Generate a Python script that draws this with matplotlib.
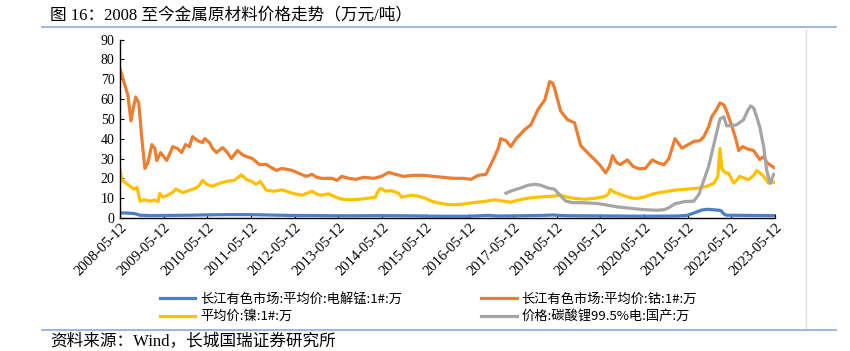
import matplotlib
matplotlib.use("Agg")
import matplotlib.pyplot as plt
from matplotlib.lines import Line2D

# time axis in fractional years, values in 万元/吨
mn_t = [2008.36, 2008.59, 2008.70, 2008.82, 2009.04, 2009.50, 2009.95, 2010.41,
        2010.87, 2011.32, 2011.78, 2012.23, 2012.92, 2013.60, 2014.28, 2014.97,
        2015.65, 2016.33, 2016.79, 2017.02, 2017.47, 2018.04, 2018.27, 2018.50,
        2019.07, 2019.75, 2020.43, 2021.12, 2021.34, 2021.50, 2021.68, 2021.80,
        2021.98, 2022.12, 2022.19, 2022.25, 2022.71, 2023.33]
mn_v = [2.6, 2.4, 2.2, 1.4, 1.2, 1.3, 1.4, 1.6,
        1.7, 1.7, 1.5, 1.3, 1.2, 1.1, 1.2, 1.1,
        0.9, 0.9, 1.3, 1.0, 1.1, 1.3, 1.5, 1.2,
        1.1, 1.0, 0.9, 1.0, 1.3, 2.5, 4.0, 4.4,
        4.1, 3.8, 2.0, 1.4, 1.3, 1.2]

co_t = [2008.36, 2008.43, 2008.54, 2008.61, 2008.66, 2008.72, 2008.79, 2008.86,
        2008.93, 2009.00, 2009.09, 2009.16, 2009.20, 2009.29, 2009.36, 2009.43,
        2009.57, 2009.68, 2009.77, 2009.86, 2009.95, 2010.02, 2010.14, 2010.25,
        2010.30, 2010.41, 2010.48, 2010.57, 2010.71, 2010.82, 2010.91, 2011.05,
        2011.16, 2011.25, 2011.39, 2011.55, 2011.71, 2011.82, 2011.94, 2012.07,
        2012.30, 2012.46, 2012.62, 2012.76, 2012.87, 2012.98, 2013.21, 2013.33,
        2013.44, 2013.60, 2013.76, 2013.94, 2014.17, 2014.35, 2014.51, 2014.67,
        2014.85, 2015.08, 2015.31, 2015.54, 2015.76, 2015.99, 2016.22, 2016.40,
        2016.56, 2016.74, 2016.83, 2016.92, 2017.02, 2017.08, 2017.20, 2017.31,
        2017.43, 2017.52, 2017.63, 2017.77, 2017.93, 2018.09, 2018.20, 2018.27,
        2018.31, 2018.45, 2018.61, 2018.77, 2018.91, 2019.02, 2019.13, 2019.25,
        2019.36, 2019.48, 2019.57, 2019.64, 2019.73, 2019.82, 2019.98, 2020.11,
        2020.25, 2020.39, 2020.55, 2020.66, 2020.82, 2020.93, 2021.07, 2021.23,
        2021.37, 2021.50, 2021.64, 2021.73, 2021.84, 2021.91, 2022.03, 2022.10,
        2022.19, 2022.25, 2022.37, 2022.46, 2022.53, 2022.62, 2022.71, 2022.87,
        2023.01, 2023.10, 2023.17, 2023.33]
co_v = [75, 70, 62, 49, 55, 61, 58, 40,
        25, 28, 37, 35, 29, 33, 31, 29,
        36, 35, 33, 37, 36, 41, 39, 38,
        40, 38, 35, 33, 35.5, 33, 30, 34,
        32, 31, 30, 27, 27, 25.5, 24, 25,
        24, 22.5, 21, 22, 20.5, 20, 20, 19,
        21, 20, 19.5, 20.5, 20, 21, 23, 22,
        21, 21.5, 21.5, 21, 20.5, 20, 20, 19.5,
        21.5, 22, 26, 30, 35, 40, 39, 36,
        40, 42, 44.6, 47, 54.6, 59.6, 68.8, 68,
        65.5, 54, 49.5, 48, 36.5, 34, 31.5, 29,
        26.4, 22.8, 26, 31.5, 28, 27, 29.3, 26,
        24.8, 25, 29.3, 28, 26.9, 30, 40, 35.2,
        37, 38.6, 39, 41, 46, 51, 55, 58,
        57, 54, 46.5, 40, 34, 36, 35, 34,
        29.5, 31, 28, 25.5]

ni_t = [2008.36, 2008.41, 2008.50, 2008.59, 2008.68, 2008.75, 2008.82, 2008.93,
        2009.04, 2009.16, 2009.23, 2009.27, 2009.34, 2009.45, 2009.57, 2009.64,
        2009.80, 2009.95, 2010.09, 2010.18, 2010.25, 2010.34, 2010.48, 2010.64,
        2010.80, 2010.98, 2011.14, 2011.25, 2011.37, 2011.48, 2011.57, 2011.71,
        2011.89, 2012.07, 2012.30, 2012.53, 2012.64, 2012.76, 2012.87, 2012.98,
        2013.14, 2013.30, 2013.44, 2013.67, 2013.87, 2014.05, 2014.21, 2014.28,
        2014.33, 2014.44, 2014.58, 2014.74, 2014.81, 2015.03, 2015.19, 2015.35,
        2015.49, 2015.65, 2015.88, 2016.04, 2016.22, 2016.40, 2016.56, 2016.72,
        2016.95, 2017.13, 2017.31, 2017.47, 2017.70, 2017.93, 2018.09, 2018.27,
        2018.45, 2018.61, 2018.77, 2019.00, 2019.23, 2019.45, 2019.54, 2019.59,
        2019.68, 2019.75, 2019.93, 2020.09, 2020.21, 2020.39, 2020.59, 2020.77,
        2021.05, 2021.30, 2021.57, 2021.80, 2021.96, 2022.05, 2022.10, 2022.14,
        2022.21, 2022.30, 2022.41, 2022.48, 2022.55, 2022.67, 2022.76, 2022.87,
        2022.94, 2023.03, 2023.10, 2023.17, 2023.21, 2023.33]
ni_v = [24, 19, 17.5, 16, 14.5, 15.5, 8.5, 9.2,
        8.5, 9, 8.3, 12.5, 10.5, 11.5, 13, 14.6,
        12.8, 14, 15, 16.5, 19, 17, 16, 17.5,
        18.5, 19, 21.8, 19.5, 18.5, 17, 18.5, 14,
        13.5, 14.2, 12.5, 11.5, 12.5, 13.5, 12, 11.5,
        12.2, 10.5, 9.5, 9.2, 9.5, 10, 10.5, 14,
        15, 13.5, 13.8, 12.5, 10.5, 11.5, 11, 10,
        8.5, 7.6, 6.8, 6.7, 7, 7.6, 8, 8.4,
        9.2, 8.5, 8, 9, 10, 10.5, 10.8, 11,
        11.6, 10.5, 9.9, 9.5, 9.9, 10.8, 12, 14.5,
        13, 12.5, 11, 10, 9.9, 10.8, 12.3, 13,
        14, 14.5, 15, 16, 17.5, 21, 35, 25,
        23, 22.5, 17.6, 19, 21, 20, 19.4, 21.5,
        24, 22.5, 21, 19, 17.6, 18]

li_t = [2017.20, 2017.36, 2017.52, 2017.70, 2017.86, 2018.00, 2018.15, 2018.31,
        2018.45, 2018.57, 2018.72, 2019.07, 2019.29, 2019.52, 2019.75, 2020.09,
        2020.36, 2020.66, 2020.82, 2020.93, 2021.07, 2021.30, 2021.50, 2021.62,
        2021.73, 2021.84, 2021.98, 2022.10, 2022.19, 2022.25, 2022.37, 2022.48,
        2022.64, 2022.73, 2022.80, 2022.87, 2022.94, 2023.01, 2023.10, 2023.17,
        2023.25, 2023.33]
li_v = [12.5, 14, 15, 16.5, 17, 16.5, 15.2, 14.5,
        11.2, 8.5, 7.8, 7.6, 7.3, 6.5, 5.6, 4.8,
        4.2, 3.9, 4.2, 5.2, 7.2, 8.3, 8.5, 12,
        19, 26, 39, 50, 51, 46.5, 46.5, 47,
        49.5, 54, 56.5, 55.5, 51, 46, 36, 24,
        17.5, 22]

tick_years = list(range(2008, 2024))
tick_labels = [f"{y}-05-12" for y in tick_years]

labels = ["长江有色市场:平均价:电解锰:1#:万", "长江有色市场:平均价:钴:1#:万",
          "平均价:镍:1#:万", "价格:碳酸锂99.5%电:国产:万"]
colors = ["#4A7EC8", "#ED7D31", "#FFC000", "#A5A5A5"]

cjk = ["Noto Sans CJK SC", "DejaVu Sans"]
serif_cjk = ["Liberation Serif", "Noto Sans CJK SC"]

fig = plt.figure(figsize=(8.5, 3.51), dpi=100)
ax = fig.add_axes([120 / 850, 1 - 218 / 351, 655 / 850, 178.5 / 351])

lw = 2.3
l_mn, = ax.plot(mn_t, mn_v, color=colors[0], lw=lw)
l_co, = ax.plot(co_t, co_v, color=colors[1], lw=lw)
l_ni, = ax.plot(ni_t, ni_v, color=colors[2], lw=lw)
l_li, = ax.plot(li_t, li_v, color=colors[3], lw=lw)

ax.set_xlim(2008.36, 2023.36)
ax.set_ylim(0, 90)
ax.set_yticks(range(0, 91, 10))
ax.set_xticks([y + 0.36 for y in tick_years])
ax.set_xticklabels(tick_labels, rotation=45, ha="right", va="top",
                   rotation_mode="anchor", family="Liberation Serif", fontsize=10.5)
for t in ax.get_yticklabels():
    t.set_family("Liberation Serif")
    t.set_fontsize(10)
ax.tick_params(direction="in", length=3, width=0.8, color="black", pad=4)
ax.tick_params(axis="x", pad=2)
for s in ["top", "right"]:
    ax.spines[s].set_visible(False)
for s in ["left", "bottom"]:
    ax.spines[s].set_linewidth(1.0)
    ax.spines[s].set_color("black")

# legend fills column-wise, so order as Mn, Ni | Co, Li
fig.legend([l_mn, l_ni, l_co, l_li], [labels[0], labels[2], labels[1], labels[3]],
           loc="upper left", bbox_to_anchor=(153 / 850, 1 - 286 / 351),
           ncol=2, frameon=False, borderpad=0, handlelength=2.7,
           handletextpad=0.35, columnspacing=6.0, labelspacing=0.35,
           prop={"family": cjk, "size": 9.5})

fig.add_artist(Line2D([42 / 850, 836 / 850], [1 - 27 / 351] * 2, color="#8EAADB", lw=1.2))
fig.add_artist(Line2D([42 / 850, 836 / 850], [1 - 330 / 351] * 2, color="#8EAADB", lw=1.2))
fig.add_artist(Line2D([806 / 850] * 2, [1 - 30 / 351, 1 - 328 / 351], color="#D9D9D9", lw=0.8))

fig.text(50 / 850, 1 - 15 / 351, "图 16：2008 至今金属原材料价格走势（万元/吨）",
         family=serif_cjk, fontsize=12, va="center")
fig.text(50 / 850, 1 - 341 / 351, "资料来源：Wind，长城国瑞证券研究所",
         family=serif_cjk, fontsize=12, va="center")

fig.savefig("out.png", dpi=100)
